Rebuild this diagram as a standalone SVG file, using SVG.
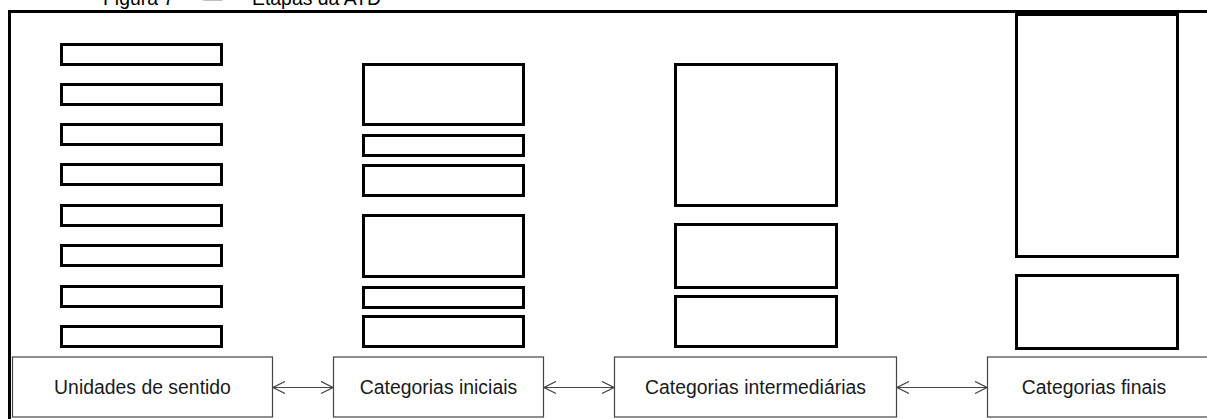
<svg xmlns="http://www.w3.org/2000/svg" width="1207" height="419" viewBox="0 0 1207 419">
  <defs>
    <style>
      .blk { fill: #fff; stroke: #000; stroke-width: 3; }
      .lbl { fill: #fff; stroke: #444; stroke-width: 1.2; }
      .txt { font-family: "Liberation Sans", Arial, sans-serif; font-size: 19.4px; fill: #1a1a1a; text-anchor: middle; }
      .ttl { font-family: "Liberation Sans", Arial, sans-serif; font-size: 19.4px; fill: #000; }
      .conn { stroke: #444; stroke-width: 1.2; fill: none; marker-start: url(#arr); marker-end: url(#arr); }
    </style>
    <marker id="arr" viewBox="0 0 14 14" refX="13" refY="7" markerWidth="14" markerHeight="14" markerUnits="userSpaceOnUse" orient="auto-start-reverse">
      <path d="M1,1 L13,7 L1,13" fill="none" stroke="#444" stroke-width="1.3"/>
    </marker>
  </defs>
  <rect width="1207" height="419" fill="#fff"/>
  <text class="ttl" x="103" y="5">Figura 7<tspan x="203">—</tspan><tspan x="252">Etapas da ATD</tspan></text>
  <g id="frame">
    <path d="M9.5,419 L9.5,11.5 L1207,11.5" fill="none" stroke="#000" stroke-width="3"/>
  </g>
  <g id="unidades">
    <rect class="blk" x="61.5" y="44.5" width="160" height="20"/>
    <rect class="blk" x="61.5" y="84.5" width="160" height="20"/>
    <rect class="blk" x="61.5" y="124.5" width="160" height="20"/>
    <rect class="blk" x="61.5" y="164.5" width="160" height="20"/>
    <rect class="blk" x="61.5" y="205.5" width="160" height="20"/>
    <rect class="blk" x="61.5" y="245.5" width="160" height="20"/>
    <rect class="blk" x="61.5" y="286.5" width="160" height="20"/>
    <rect class="blk" x="61.5" y="326.5" width="160" height="20"/>
  </g>
  <g id="iniciais">
    <rect class="blk" x="363.5" y="64.5" width="160" height="60"/>
    <rect class="blk" x="363.5" y="135.5" width="160" height="20"/>
    <rect class="blk" x="363.5" y="165.5" width="160" height="30"/>
    <rect class="blk" x="363.5" y="215.5" width="160" height="61"/>
    <rect class="blk" x="363.5" y="287.5" width="160" height="20"/>
    <rect class="blk" x="363.5" y="316.5" width="160" height="30"/>
  </g>
  <g id="intermediarias">
    <rect class="blk" x="675.5" y="64.5" width="161" height="141"/>
    <rect class="blk" x="675.5" y="224.5" width="161" height="63"/>
    <rect class="blk" x="675.5" y="296.5" width="161" height="50"/>
  </g>
  <g id="finais">
    <rect class="blk" x="1016.5" y="14.5" width="161" height="242"/>
    <rect class="blk" x="1016.5" y="275.5" width="161" height="73"/>
  </g>
  <g id="node-unidades">
    <rect class="lbl" x="12.5" y="357" width="260" height="60"/>
    <text class="txt" x="142.5" y="394">Unidades de sentido</text>
  </g>
  <g id="node-iniciais">
    <rect class="lbl" x="333.5" y="357" width="210" height="60"/>
    <text class="txt" x="438.5" y="394">Categorias iniciais</text>
  </g>
  <g id="node-intermediarias">
    <rect class="lbl" x="614.5" y="357" width="282" height="60"/>
    <text class="txt" x="755.5" y="394">Categorias intermediárias</text>
  </g>
  <g id="node-finais">
    <rect class="lbl" x="987.5" y="357" width="225" height="60"/>
    <text class="txt" x="1094" y="394">Categorias finais</text>
  </g>
  <g id="connectors">
    <line class="conn" x1="273" y1="387.5" x2="333" y2="387.5"/>
    <line class="conn" x1="544" y1="387.5" x2="614" y2="387.5"/>
    <line class="conn" x1="897" y1="387.5" x2="987" y2="387.5"/>
  </g>
</svg>
